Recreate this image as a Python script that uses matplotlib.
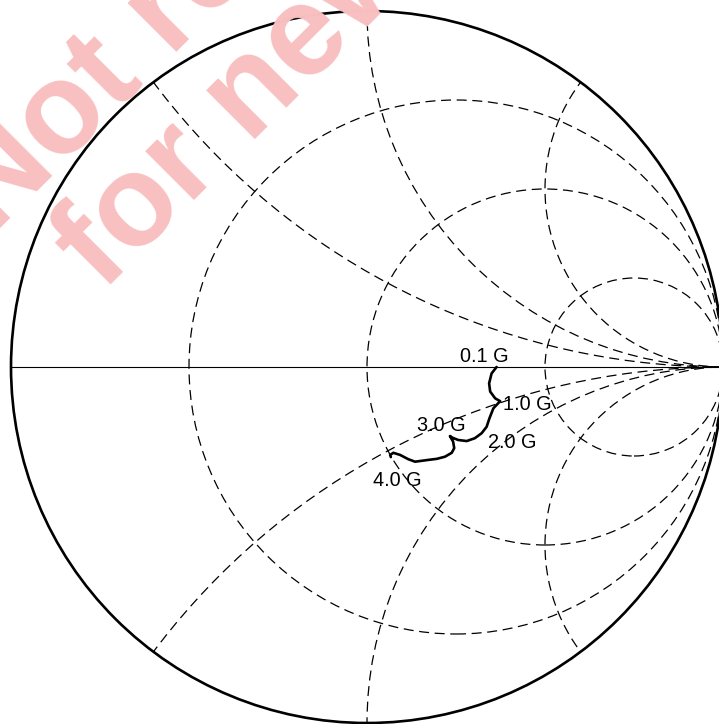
import numpy as np
import matplotlib
matplotlib.use('Agg')
from matplotlib import pyplot as plt
from matplotlib.patches import Circle

# constant resistance / reactance grid values (normalized)
resistance_values = [1 / 3, 1.0, 3.0]
reactance_values = [0.5, 1.0, 2.0]

gamma_re = [0.364, 0.350, 0.343, 0.346, 0.360, 0.374, 0.355, 0.344, 0.336,
            0.322, 0.303, 0.280, 0.256, 0.241, 0.233, 0.242, 0.245, 0.238,
            0.219, 0.196, 0.172, 0.135, 0.116, 0.093, 0.074, 0.065, 0.067]
gamma_im = [0.000, -0.018, -0.046, -0.069, -0.088, -0.096, -0.116, -0.144, -0.168,
            -0.186, -0.200, -0.208, -0.205, -0.199, -0.194, -0.210, -0.228, -0.241,
            -0.252, -0.258, -0.261, -0.266, -0.259, -0.247, -0.241, -0.247, -0.253]

# frequency markers: label and index into the trace
marker_labels = ['0.1 G', '1.0 G', '2.0 G', '3.0 G', '4.0 G']
marker_index = [0, 5, 8, 14, 26]
# label offsets in points (dx, dy)
marker_offsets = [(-9, 7.5), (19.5, -2.5), (18.5, -11), (-6.5, 7.5), (4.5, -17)]

watermark_lines = ['Not recommended', 'for new designs']

GRID_DASH = (0, (8, 4.5))
LABEL_FONT = 'Liberation Sans'
W, H = 719, 724


def draw_watermark(fig):
    # big pink stamp in the top left corner, behind the chart
    origins = [(-7, 235), (102, 292)]  # pixel positions of each line's baseline start
    for text, (px, py) in zip(watermark_lines, origins):
        fig.text(px / W, (H - py) / H, text, color='#f8c0c0', fontsize=93,
                 fontweight='bold', family=LABEL_FONT, rotation=45,
                 rotation_mode='anchor', ha='left', va='baseline', zorder=0)


def draw_grid(ax):
    border = Circle((0, 0), 1, fill=False, lw=1.9, color='black', zorder=5)
    ax.add_patch(border)

    for r in resistance_values:
        c = Circle((r / (1 + r), 0), 1 / (1 + r), fill=False, lw=0.9,
                   color='black', linestyle=GRID_DASH, zorder=2)
        ax.add_patch(c)
        c.set_clip_path(border)

    for x in reactance_values:
        for sign in (1, -1):
            c = Circle((1, sign / x), 1 / x, fill=False, lw=0.9,
                       color='black', linestyle=GRID_DASH, zorder=2)
            ax.add_patch(c)
            c.set_clip_path(border)

    # real axis
    ax.plot([-1, 1], [0, 0], color='black', lw=0.8, zorder=3)


def draw_trace(ax):
    ax.plot(gamma_re, gamma_im, color='black', lw=1.9, zorder=6,
            solid_joinstyle='round', solid_capstyle='round')
    for label, idx, off in zip(marker_labels, marker_index, marker_offsets):
        ax.annotate(label, (gamma_re[idx], gamma_im[idx]), xytext=off,
                    textcoords='offset points', ha='center', va='center',
                    fontsize=14.3, family=LABEL_FONT, zorder=7)


fig = plt.figure(figsize=(W / 100, H / 100), dpi=100)
ax = fig.add_axes([0, 0, 1, 1])
ax.set_xlim(-367 / 356, (W - 367) / 356)
ax.set_ylim((367 - H) / 356, 367 / 356)
ax.set_axis_off()
ax.patch.set_alpha(0)

draw_watermark(fig)
draw_grid(ax)
draw_trace(ax)

fig.savefig('out.png', dpi=100)
